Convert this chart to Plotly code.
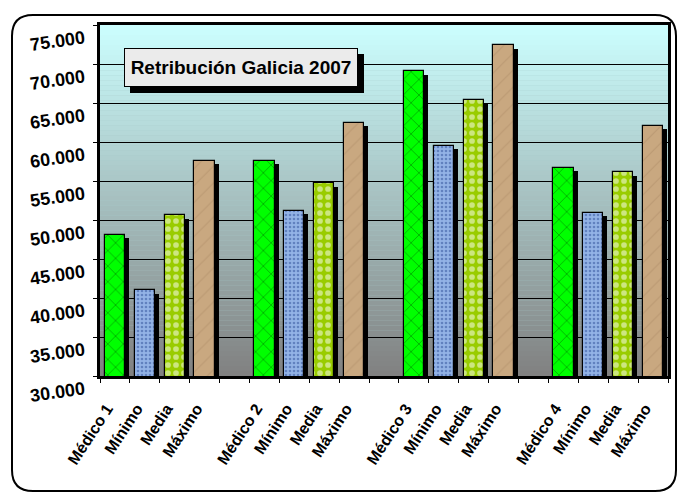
import plotly.graph_objects as go

# ---------------- data ----------------
groups = ["Médico 1", "Médico 2", "Médico 3", "Médico 4"]
series_names = ["Médico", "Mínimo", "Media", "Máximo"]
medico = [48100, 57600, 69100, 56700]
minimo = [41000, 51200, 59500, 50900]
media = [50600, 54700, 65400, 56100]
maximo = [57600, 62500, 72400, 62100]
sub_labels = ["Mínimo", "Media", "Máximo"]
title_text = "Retribución Galicia 2007"
y_ticks = [30000, 35000, 40000, 45000, 50000, 55000, 60000, 65000, 70000, 75000]

# ---------------- layout geometry (pixels) ----------------
W, H = 679, 496
ML, MR, MT, MB = 100, 11, 25, 120
PW, PH = W - ML - MR, H - MT - MB
SLOTS_PER_GROUP = 5  # 4 bars + one empty slot


def px(xp):
    return (xp - ML) / PW


def py(yp):
    return 1 - (yp - MT) / PH


# category positions and tick labels
tick_vals, tick_text = [], []
for g, name in enumerate(groups):
    labels = [name] + sub_labels
    for s, lab in enumerate(labels):
        tick_vals.append(g * SLOTS_PER_GROUP + s)
        tick_text.append(lab)
n_slots = SLOTS_PER_GROUP * len(groups) - 1
boundaries = [i - 0.5 for i in range(n_slots + 1)]

series_values = [medico, minimo, media, maximo]
styles = [
    dict(color="#00ee00", pattern=dict(shape="x", fgcolor="#003300", bgcolor="#00ff00", size=11, solidity=0.12)),
    dict(color="#7d9fd8", pattern=dict(shape=".", fgcolor="#2f4f98", bgcolor="#93b3e6", size=4, solidity=0.35)),
    dict(color="#99cc00", pattern=dict(shape=".", fgcolor="#ffffff", bgcolor="#99cc00", size=8, solidity=0.4)),
    dict(color="#c4a27a", pattern=dict(shape="/", fgcolor="#ad8c66", bgcolor="#c9a880", size=12, solidity=0.1)),
]

BAR_W = 0.68
SHADOW_DX = 4 / (PW / n_slots)  # in category units
SHADOW_DY = 3.5 / PH * (75000 - 30000)  # in value units

fig = go.Figure()

# shadows
for s, vals in enumerate(series_values):
    xs = [g * SLOTS_PER_GROUP + s for g in range(len(groups))]
    fig.add_trace(go.Bar(
        x=xs, y=[v - SHADOW_DY for v in vals], width=BAR_W, offset=-BAR_W / 2 + SHADOW_DX,
        marker=dict(color="black", line=dict(width=0)), showlegend=False, hoverinfo="skip"))

# bars
for s, vals in enumerate(series_values):
    xs = [g * SLOTS_PER_GROUP + s for g in range(len(groups))]
    st = styles[s]
    fig.add_trace(go.Bar(
        x=xs, y=vals, width=BAR_W, offset=-BAR_W / 2, name=series_names[s],
        marker=dict(color=st["color"], pattern=st["pattern"], line=dict(color="black", width=1.2)),
        showlegend=False))

# gradient background in plot area (#CCFFFF top -> #808080 bottom)
top_c = (204, 255, 255)
bot_c = (128, 128, 128)
N = 70
shapes = []
for i in range(N):
    t = (i + 0.5) / N
    c = tuple(int(round(top_c[k] + (bot_c[k] - top_c[k]) * t)) for k in range(3))
    shapes.append(dict(type="rect", xref="paper", yref="paper", x0=0, x1=1,
                       y0=1 - (i + 1) / N, y1=1 - i / N, layer="below",
                       fillcolor="rgb(%d,%d,%d)" % c, line=dict(width=0)))

# outer rounded border
L, R, T, B, r = 12, 676, 15, 491, 21
path = (f"M {px(L + r)},{py(T)} L {px(R - r)},{py(T)} Q {px(R)},{py(T)} {px(R)},{py(T + r)} "
        f"L {px(R)},{py(B - r)} Q {px(R)},{py(B)} {px(R - r)},{py(B)} "
        f"L {px(L + r)},{py(B)} Q {px(L)},{py(B)} {px(L)},{py(B - r)} "
        f"L {px(L)},{py(T + r)} Q {px(L)},{py(T)} {px(L + r)},{py(T)} Z")
shapes.append(dict(type="path", xref="paper", yref="paper", path=path,
                   line=dict(color="black", width=2), layer="above"))

# title box shadow (box spans 124..358 x 48..87 px)
shapes.append(dict(type="rect", xref="paper", yref="paper",
                   x0=px(130), x1=px(364), y0=py(93), y1=py(54),
                   fillcolor="black", line=dict(width=0), layer="above"))

font_family = "Liberation Sans, Arial, sans-serif"

annotations = [
    dict(xref="paper", yref="paper", x=px(241), y=py(67.5), xanchor="center", yanchor="middle",
         showarrow=False, width=226, height=31, borderpad=3, borderwidth=1,
         text="<b>" + title_text + "</b>", bgcolor="#ebebeb", bordercolor="black",
         font=dict(family=font_family, size=19, color="black")),
]

fig.update_layout(
    width=W, height=H,
    margin=dict(l=ML, r=MR, t=MT, b=MB, autoexpand=False),
    paper_bgcolor="white", plot_bgcolor="#a6c8c8",
    barmode="overlay", bargap=0,
    separators=",.",
    shapes=shapes, annotations=annotations,
    font=dict(family=font_family, color="black"),
)

fig.update_xaxes(
    range=[-0.5, n_slots - 0.5], tickmode="array", tickvals=tick_vals,
    ticktext=["<b>" + t + "</b>" for t in tick_text],
    tickangle=-57, tickfont=dict(size=16, family=font_family, color="black"),
    ticklabelshift=-8, ticklabelstandoff=14,
    ticks="", showgrid=False, zeroline=False,
    showline=True, linecolor="black", linewidth=3, mirror=True,
    minor=dict(tickmode="array", tickvals=boundaries, ticks="outside", ticklen=4,
               tickcolor="black", tickwidth=1, showgrid=False),
)
fig.update_yaxes(
    range=[30000, 75000], tickmode="array", tickvals=y_ticks,
    ticktext=["<b>" + f"{v:,}".replace(",", ".") + "</b>" for v in y_ticks],
    tickfont=dict(size=18, family=font_family, color="black"), tickangle=-8,
    ticklabelshift=12, ticklabelstandoff=5,
    ticks="outside", ticklen=4, tickcolor="black",
    showgrid=True, gridcolor="black", gridwidth=1, zeroline=False,
    showline=True, linecolor="black", linewidth=3, mirror=True,
)

fig.write_html("out.html", config={"displayModeBar": False},
               post_script="document.body.style.margin='0px';")
